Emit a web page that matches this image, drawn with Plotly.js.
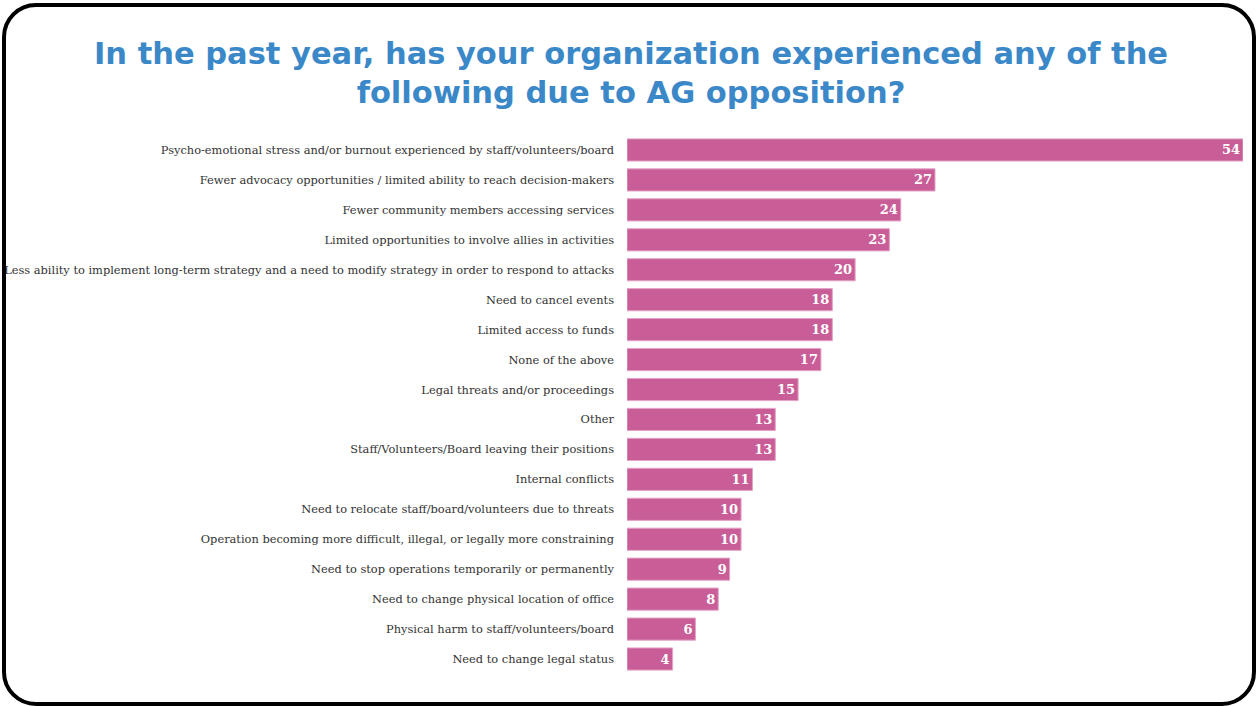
<!DOCTYPE html>
<html>
<head>
<meta charset="utf-8">
<script src="https://cdn.plot.ly/plotly-3.0.1.min.js"></script>
<style>
  html, body { margin: 0; padding: 0; background: #fff; }
  #wrap { position: relative; width: 1257px; height: 706px; }
  #chart { position: absolute; left: 0; top: 0; width: 1257px; height: 706px; }
  #frame { position: absolute; left: 2px; top: 3px; width: 1246px; height: 695px;
           border: 4px solid #000; border-radius: 34px; pointer-events: none; }
</style>
</head>
<body>
<div id="wrap">
  <div id="chart"></div>
  <div id="frame"></div>
</div>
<script>
const categories = [
  "Psycho-emotional stress and/or burnout experienced by staff/volunteers/board",
  "Fewer advocacy opportunities / limited ability to reach decision-makers",
  "Fewer community members accessing services",
  "Limited opportunities to involve allies in activities",
  "Less ability to implement long-term strategy and a need to modify strategy in order to respond to attacks",
  "Need to cancel events",
  "Limited access to funds",
  "None of the above",
  "Legal threats and/or proceedings",
  "Other",
  "Staff/Volunteers/Board leaving their positions",
  "Internal conflicts",
  "Need to relocate staff/board/volunteers due to threats",
  "Operation becoming more difficult, illegal, or legally more constraining",
  "Need to stop operations temporarily or permanently",
  "Need to change physical location of office",
  "Physical harm to staff/volunteers/board",
  "Need to change legal status"
];
const values = [54, 27, 24, 23, 20, 18, 18, 17, 15, 13, 13, 11, 10, 10, 9, 8, 6, 4];
const titleText = "In the past year, has your organization experienced any of the<br>following due to AG opposition?";

const trace = {
  type: "bar",
  orientation: "h",
  x: values,
  y: categories,
  text: values.map(String),
  textposition: "inside",
  insidetextanchor: "end",
  textangle: 0,
  textfont: { family: "DejaVu Serif, serif", size: 13, color: "#ffffff", weight: "bold" },
  marker: { color: "#c95d97", line: { color: "#e3a3c6", width: 1 } },
  hoverinfo: "none",
  cliponaxis: false
};

const layout = {
  width: 1257,
  height: 706,
  paper_bgcolor: "rgba(0,0,0,0)",
  plot_bgcolor: "rgba(0,0,0,0)",
  margin: { l: 627, r: 14, t: 135, b: 32 },
  bargap: 0.26,
  showlegend: false,
  title: {
    text: titleText,
    x: 0.502,
    xanchor: "center",
    xref: "container",
    y: 0.91,
    yref: "container",
    yanchor: "top",
    font: { family: "DejaVu Sans, sans-serif", size: 30.5, color: "#3b88c9", weight: "bold" }
  },
  xaxis: {
    range: [0, 54],
    visible: false,
    fixedrange: true
  },
  yaxis: {
    type: "category",
    categoryorder: "array",
    categoryarray: categories,
    autorange: "reversed",
    showgrid: false,
    zeroline: false,
    showline: false,
    ticks: "",
    ticklen: 0,
    ticklabelstandoff: 12,
    tickfont: { family: "DejaVu Serif, serif", size: 11.4, color: "#333333" },
    fixedrange: true
  }
};

Plotly.newPlot("chart", [trace], layout, { displayModeBar: false, staticPlot: true });
</script>
</body>
</html>
